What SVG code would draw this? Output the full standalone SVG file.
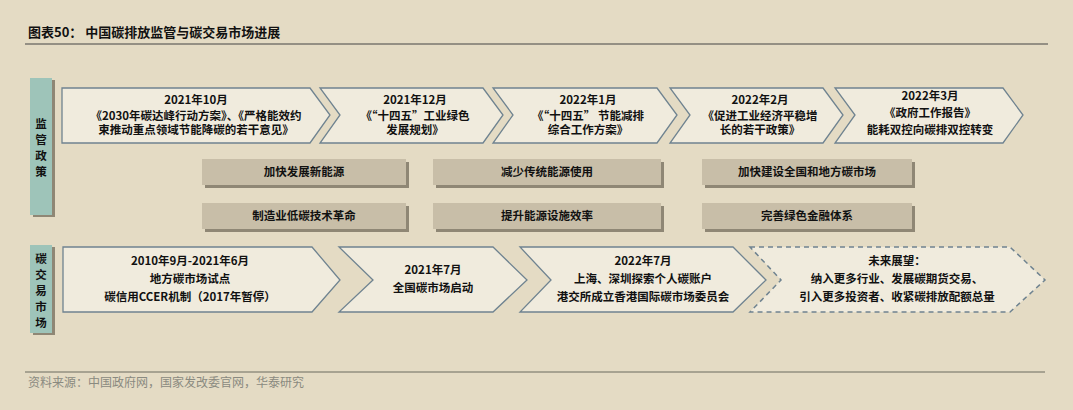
<svg xmlns="http://www.w3.org/2000/svg" width="1073" height="410" viewBox="0 0 1073 410">
<style>
text{font-family:"Noto Sans CJK SC","Liberation Sans",sans-serif;font-weight:bold;fill:#111;text-anchor:middle;font-size:11.5px}
.ch{fill:#f0ebdd;stroke:#6f8390;stroke-width:1.3}
.dash{fill:#f0ebdd;stroke:#6f8390;stroke-width:1.5;stroke-dasharray:5 4}
.bx{fill:#c8bea8}
.sh{fill:#8f8775}
.side{fill:#9ec4b9}
</style>
<rect width="1073" height="410" fill="#e4dbc4"/>
<text x="28" y="37" style="text-anchor:start;font-size:13px">图表50：  中国碳排放监管与碳交易市场进展</text>
<line x1="25" y1="44" x2="1048" y2="44" stroke="#444" stroke-width="1"/>
<g id="side1"><rect x="33" y="80" width="22" height="137" class="sh"/><rect x="30" y="78" width="22" height="137" class="side"/>
<text x="41" y="128">监</text><text x="41" y="144">管</text><text x="41" y="160">政</text><text x="41" y="176">策</text></g>
<g id="side2"><rect x="33" y="247" width="22" height="88" class="sh"/><rect x="30" y="245" width="22" height="88" class="side"/>
<text x="41" y="263">碳</text><text x="41" y="279">交</text><text x="41" y="295">易</text><text x="41" y="311">市</text><text x="41" y="327">场</text></g>
<g id="p1"><polygon class="ch" points="62,88 310,88 330,115 310,143 62,143"/>
<text x="196" y="104">2021年10月</text><text x="196" y="120">《2030年碳达峰行动方案》、《严格能效约</text><text x="196" y="134">束推动重点领域节能降碳的若干意见》</text></g>
<g id="p2"><polygon class="ch" points="320,88 483,88 503,115 483,143 320,143 340,115"/>
<text x="415" y="104">2021年12月</text><text x="415" y="120">《“十四五”工业绿色</text><text x="415" y="134">发展规划》</text></g>
<g id="p3"><polygon class="ch" points="493,88 657,88 677,115 657,143 493,143 513,115"/>
<text x="588" y="104">2022年1月</text><text x="588" y="120">《“十四五” 节能减排</text><text x="588" y="134">综合工作方案》</text></g>
<g id="p4"><polygon class="ch" points="670,88 823,88 843,115 823,143 670,143 690,115"/>
<text x="760" y="104">2022年2月</text><text x="760" y="120">《促进工业经济平稳增</text><text x="760" y="134">长的若干政策》</text></g>
<g id="p5"><polygon class="ch" points="835,88 1003,88 1023,115 1003,143 835,143 855,115"/>
<text x="930" y="100">2022年3月</text><text x="930" y="117">《政府工作报告》</text><text x="930" y="134">能耗双控向碳排双控转变</text></g>
<g id="b1"><rect x="205" y="162" width="204" height="26" class="sh"/><rect x="202" y="159" width="204" height="26" class="bx"/><text x="304" y="176">加快发展新能源</text></g>
<g id="b2"><rect x="436" y="162" width="228" height="26" class="sh"/><rect x="433" y="159" width="228" height="26" class="bx"/><text x="547" y="176">减少传统能源使用</text></g>
<g id="b3"><rect x="705" y="162" width="210" height="26" class="sh"/><rect x="702" y="159" width="210" height="26" class="bx"/><text x="807" y="176">加快建设全国和地方碳市场</text></g>
<g id="b4"><rect x="205" y="206" width="204" height="26" class="sh"/><rect x="202" y="203" width="204" height="26" class="bx"/><text x="304" y="220">制造业低碳技术革命</text></g>
<g id="b5"><rect x="436" y="206" width="228" height="26" class="sh"/><rect x="433" y="203" width="228" height="26" class="bx"/><text x="547" y="220">提升能源设施效率</text></g>
<g id="b6"><rect x="705" y="206" width="210" height="26" class="sh"/><rect x="702" y="203" width="210" height="26" class="bx"/><text x="807" y="220">完善绿色金融体系</text></g>
<g id="m1"><polygon class="ch" points="63,247 312,247 340,280 312,312 63,312"/>
<text x="190" y="265">2010年9月-2021年6月</text><text x="190" y="283">地方碳市场试点</text><text x="190" y="301">碳信用CCER机制（2017年暂停）</text></g>
<g id="m2"><polygon class="ch" points="339,247 493,247 527,280 493,312 339,312 373,280"/>
<text x="433" y="274">2021年7月</text><text x="433" y="292">全国碳市场启动</text></g>
<g id="m3"><polygon class="ch" points="520,247 733,247 766,280 733,312 520,312 551,280"/>
<text x="643" y="265">2022年7月</text><text x="643" y="283">上海、深圳探索个人碳账户</text><text x="643" y="301">港交所成立香港国际碳市场委员会</text></g>
<g id="m4"><polygon class="dash" points="750,247 1010,247 1045,280 1010,312 750,312 781,280"/>
<text x="897" y="265">未来展望：</text><text x="897" y="283">纳入更多行业、发展碳期货交易、</text><text x="897" y="301">引入更多投资者、收紧碳排放配额总量</text></g>
<g id="connectors"></g>
<line x1="25" y1="372" x2="1045" y2="372" stroke="#6b6b5e" stroke-width="1"/>
<text x="28" y="387" style="text-anchor:start;font-weight:normal;fill:#8a8a80;font-size:12px;font-family:'Noto Sans CJK SC',serif">资料来源：中国政府网，国家发改委官网，华泰研究</text>
</svg>
